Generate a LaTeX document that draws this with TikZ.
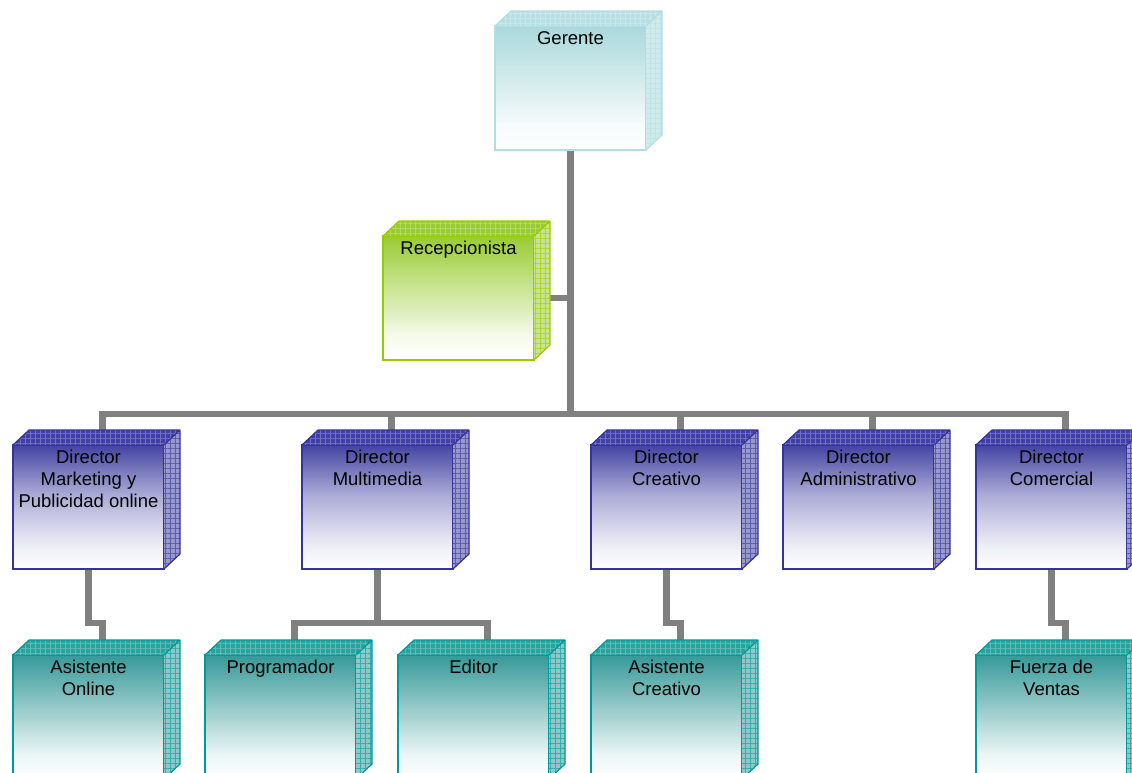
\documentclass[tikz,border=0pt]{standalone}
\usepackage{fontspec}
\setmainfont{Liberation Sans}
\usetikzlibrary{calc,patterns.meta}
\pgfdeclarelayer{bg}
\pgfsetlayers{bg,main}

\definecolor{gerC}{RGB}{170,216,220}
\definecolor{gerL}{RGB}{176,222,226}
\definecolor{gerT}{RGB}{184,224,227}
\definecolor{recC}{RGB}{153,204,51}
\definecolor{recL}{RGB}{153,204,0}
\definecolor{recT}{RGB}{153,204,51}
\definecolor{dirC}{RGB}{68,68,163}
\definecolor{dirL}{RGB}{51,51,153}
\definecolor{dirT}{RGB}{64,64,168}
\definecolor{asiC}{RGB}{55,153,153}
\definecolor{asiL}{RGB}{0,153,153}
\definecolor{asiT}{RGB}{40,163,158}
\definecolor{conn}{RGB}{128,128,128}

\pgfdeclareverticalshading{gerS}{100bp}{color(0bp)=(white); color(25bp)=(white); color(35bp)=(gerC!10!white); color(55bp)=(gerC!55!white); color(75bp)=(gerC); color(100bp)=(gerC)}
\pgfdeclareverticalshading{recS}{100bp}{color(0bp)=(white); color(25bp)=(white); color(35bp)=(recC!10!white); color(55bp)=(recC!55!white); color(75bp)=(recC); color(100bp)=(recC)}
\pgfdeclareverticalshading{dirS}{100bp}{color(0bp)=(white); color(25bp)=(white); color(35bp)=(dirC!10!white); color(55bp)=(dirC!45!white); color(75bp)=(dirC); color(100bp)=(dirC)}
\pgfdeclareverticalshading{asiS}{100bp}{color(0bp)=(white); color(25bp)=(white); color(35bp)=(asiC!10!white); color(55bp)=(asiC!55!white); color(75bp)=(asiC); color(100bp)=(asiC)}

\tikzset{
  front/.style={draw=#1L, shade, shading=#1S, line width=1.2pt, inner sep=0pt, outer sep=0pt,
    minimum width=151pt, minimum height=124pt},
  connector/.style={draw=conn, line width=6.5pt, line join=miter},
  edge3d/.style={draw=#1L, line width=1.2pt, line join=round}
}

\newcommand\orgBox[5]{%
  \node[front=#4] (#1) at ({#2+75.5},{#3+62}) {\parbox[c][124pt][t]{151pt}{\centering\vspace*{3pt}\strut #5\par}};
  \path[fill=#4T] (#1.north west) -- ++(16,-15) -- ($(#1.north east)+(16,-15)$) -- (#1.north east) -- cycle;
  \path[pattern={Hatch[distance=5pt,line width=.35pt]},pattern color=#4T!75!white] (#1.north west) -- ++(16,-15) -- ($(#1.north east)+(16,-15)$) -- (#1.north east) -- cycle;
  \path[fill=#4C!55!white] (#1.north east) -- ++(16,-15) -- ($(#1.south east)+(16,-15)$) -- (#1.south east) -- cycle;
  \path[pattern={Hatch[distance=5pt,line width=.6pt]},pattern color=#4L!80!white] (#1.north east) -- ++(16,-15) -- ($(#1.south east)+(16,-15)$) -- (#1.south east) -- cycle;
  \draw[edge3d=#4] (#1.north west) -- ++(16,-15) -- ($(#1.north east)+(16,-15)$) -- ($(#1.south east)+(16,-15)$) -- (#1.south east) (#1.north east) -- ++(16,-15);
}

\begin{document}
\begin{tikzpicture}[x=1pt,y=-1pt,font=\fontsize{18.5}{22}\selectfont]
\useasboundingbox (0,0) rectangle (1132,773);
\clip (0,0) rectangle (1132,773);

\orgBox{ger}{495}{26}{ger}{Gerente}
\orgBox{rec}{383}{236}{rec}{Recepcionista}

\orgBox{dmk}{13}{445}{dir}{Director\\Marketing y\\Publicidad online}
\orgBox{dmm}{302}{445}{dir}{Director\\Multimedia}
\orgBox{dcr}{591}{445}{dir}{Director\\Creativo}
\orgBox{dad}{783}{445}{dir}{Director\\Administrativo}
\orgBox{dco}{976}{445}{dir}{Director\\Comercial}

\orgBox{aon}{13}{655}{asi}{Asistente\\Online}
\orgBox{prg}{205}{655}{asi}{Programador}
\orgBox{edi}{398}{655}{asi}{Editor}
\orgBox{acr}{591}{655}{asi}{Asistente\\Creativo}
\orgBox{fdv}{976}{655}{asi}{Fuerza de\\Ventas}

\begin{pgfonlayer}{bg}
  \coordinate (bus) at ($(dmk.north)+(14,-31)$);
  \draw[connector] (ger.south) -- (ger.south |- bus);
  \draw[connector] (rec.east) -- (rec.east -| ger.south);
  \draw[connector] ($(dmk.north)+(14,0)$) -- (bus) -| ($(dco.north)+(14,0)$);
  \draw[connector] ($(dmm.north)+(14,0)$) -- ($(dmm.north)+(14,-31)$);
  \draw[connector] ($(dcr.north)+(14,0)$) -- ($(dcr.north)+(14,-31)$);
  \draw[connector] ($(dad.north)+(14,0)$) -- ($(dad.north)+(14,-31)$);

  \draw[connector] (dmk.south) -- ++(0,54) -| ($(aon.north)+(14,0)$);
  \coordinate (mmj) at ($(dmm.south)+(0,54)$);
  \draw[connector] (dmm.south) -- (mmj);
  \draw[connector] ($(prg.north)+(14,0)$) |- (mmj) -| ($(edi.north)+(14,0)$);
  \draw[connector] (dcr.south) -- ++(0,54) -| ($(acr.north)+(14,0)$);
  \draw[connector] (dco.south) -- ++(0,54) -| ($(fdv.north)+(14,0)$);
\end{pgfonlayer}
\end{tikzpicture}
\end{document}
